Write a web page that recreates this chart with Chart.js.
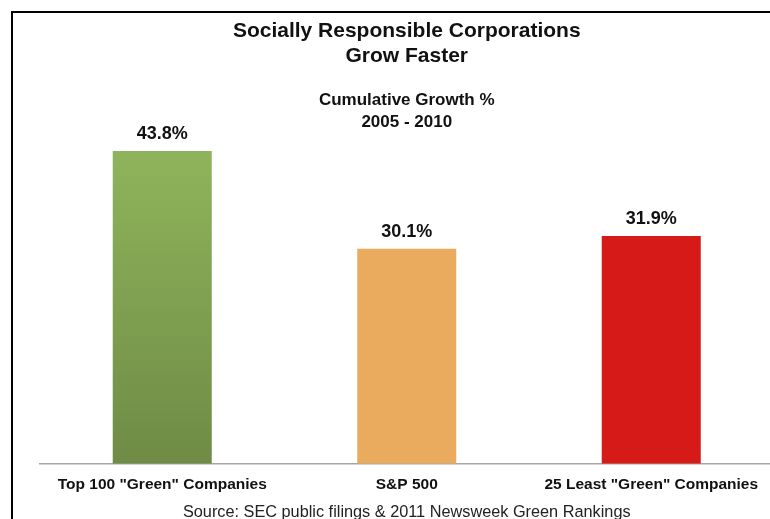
<!DOCTYPE html>
<html>
<head>
<meta charset="utf-8">
<script src="https://cdn.jsdelivr.net/npm/chart.js@4.4.1/dist/chart.umd.min.js"></script>
<style>
  html, body { margin: 0; padding: 0; background: #fff; overflow: hidden; }
  #frame {
    position: absolute; left: 11px; top: 11px; width: 800px; height: 540px;
    border-top: 2px solid #000; border-left: 2px solid #000;
  }
  #myChart { position: absolute; left: 0; top: 0; }
</style>
</head>
<body>
<div id="frame"></div>
<canvas id="myChart" width="780" height="522"></canvas>
<script>
var categories = ['Top 100 "Green" Companies', "S&P 500", '25 Least "Green" Companies'];
var growth = [43.8, 30.1, 31.9];
var titleLines = ["Socially Responsible Corporations", "Grow Faster"];
var subtitleLines = ["Cumulative Growth %", "2005 - 2010"];
var sourceText = "Source: SEC public filings & 2011 Newsweek Green Rankings";

var FONT = '"Liberation Sans", Arial, Helvetica, sans-serif';

// value labels above bars
var barLabels = {
  id: "barLabels",
  afterDatasetsDraw(chart) {
    const ctx = chart.ctx;
    const meta = chart.getDatasetMeta(0);
    ctx.save();
    ctx.font = "bold 18px " + FONT;
    ctx.fillStyle = "#111";
    ctx.textAlign = "center";
    ctx.textBaseline = "middle";
    meta.data.forEach(function (bar, i) {
      ctx.fillText(growth[i].toFixed(1) + "%", bar.x, bar.y - 17);
    });
    ctx.restore();
  },
};

function barColor(context) {
  var i = context.dataIndex;
  if (i === 1) return "#ebab5f";
  if (i === 2) return "#d51a18";
  // green bar has a soft vertical gradient
  var chart = context.chart;
  if (!chart.chartArea) return "#80a050";
  var y = chart.scales.y;
  var g = chart.ctx.createLinearGradient(0, y.getPixelForValue(growth[0]), 0, y.getPixelForValue(0));
  g.addColorStop(0, "#8fb45b");
  g.addColorStop(1, "#6f8b45");
  return g;
}

const ctx = document.getElementById("myChart");
new Chart(ctx, {
  type: "bar",
  data: {
    labels: categories,
    datasets: [
      {
        data: growth,
        backgroundColor: barColor,
        borderWidth: 0,
        categoryPercentage: 1,
        barPercentage: 0.405,
      },
    ],
  },
  options: {
    responsive: false,
    animation: false,
    layout: {
      padding: { left: 40, right: 6.5, top: 0, bottom: 0 },
    },
    plugins: {
      legend: { display: false },
      tooltip: { enabled: false },
      title: {
        display: true,
        text: titleLines,
        fullSize: false,
        color: "#111",
        font: { family: FONT, size: 21, weight: "bold", lineHeight: 1.2 },
        padding: { top: 18.5, bottom: 10.5 },
      },
      subtitle: {
        display: true,
        text: subtitleLines,
        fullSize: false,
        color: "#111",
        font: { family: FONT, size: 17, weight: "bold", lineHeight: 1.3 },
        padding: { top: 9.4, bottom: 9.4 },
      },
    },
    scales: {
      x: {
        grid: { display: false, drawTicks: false },
        border: { display: true, color: "#a6a6a6", width: 1.5 },
        ticks: {
          color: "#111",
          padding: 12,
          maxRotation: 0,
          font: { family: FONT, size: 15.5, weight: "bold" },
        },
        title: {
          display: true,
          text: sourceText,
          color: "#222",
          font: { family: FONT, size: 16.3 },
          padding: { top: -4, bottom: 0 },
        },
      },
      y: {
        display: false,
        min: 0,
        max: 45,
      },
    },
  },
  plugins: [barLabels],
});
</script>
</body>
</html>
